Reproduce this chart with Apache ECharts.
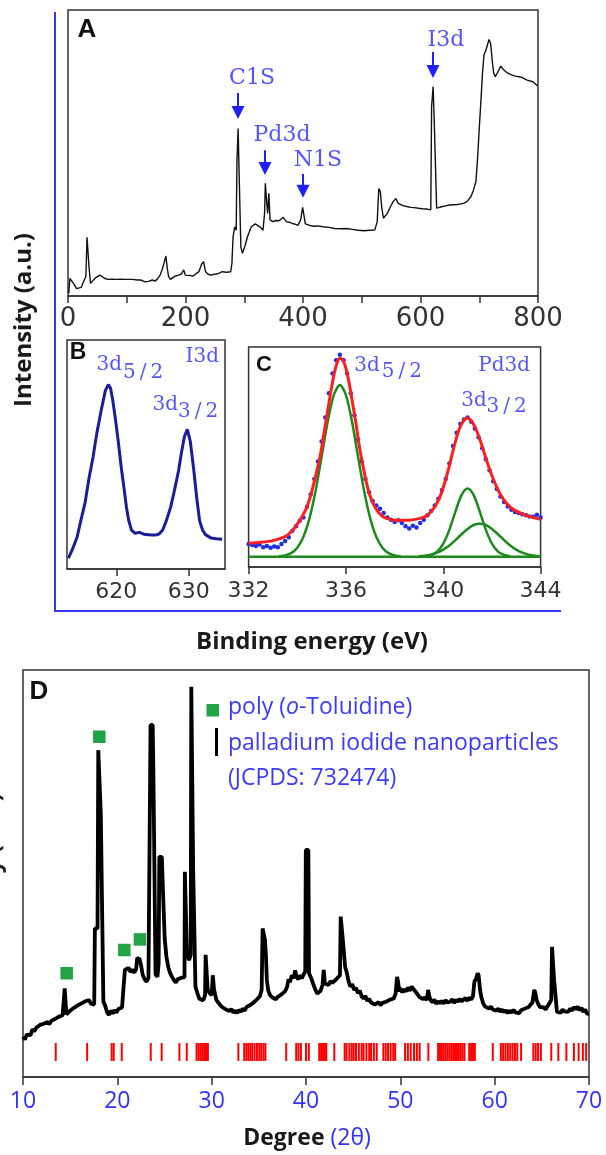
<!DOCTYPE html>
<html>
<head>
<meta charset="utf-8">
<script src="https://cdn.jsdelivr.net/npm/echarts@6.0.0/dist/echarts.min.js"></script>
<style>
html,body{margin:0;padding:0;background:#fff}
#chart{width:606px;height:1155px}
</style>
</head>
<body>
<div id="chart"></div>
<script>
// ---------- Panel A: XPS survey (binding energy eV, intensity a.u.) ----------
const surveySpectrum = [[1.3,0.9],[3.3,6.2],[6.6,5.8],[11.2,3.8],[14.5,2.6],[17.9,2.1],[22.5,3.0],[26.4,5.0],[30.4,6.8],[32.4,20.5],[34.4,20.5],[35.7,10.3],[38.3,4.4],[41.5,5.2],[44.3,5.8],[47.6,6.5],[50.9,7.0],[54.2,7.3],[57.5,6.8],[62.0,6.2],[67.4,5.8],[75.0,5.9],[83.0,5.8],[90.0,5.9],[96.0,5.8],[98.5,6.4],[100.5,5.8],[110.0,5.8],[118.0,5.6],[123.6,5.6],[130.3,5.0],[137.0,5.1],[143.5,5.6],[148.0,5.2],[152.0,5.9],[156.7,7.3],[160.0,9.1],[163.3,11.4],[166.6,14.0],[168.6,10.3],[171.2,6.8],[174.6,5.8],[179.0,6.5],[183.2,7.0],[188.0,7.3],[193.0,7.7],[197.0,9.1],[199.7,7.3],[206.0,7.2],[213.0,7.0],[218.0,7.8],[222.8,8.5],[227.5,11.2],[230.8,12.0],[234.0,8.5],[238.5,7.6],[242.7,7.3],[247.5,7.5],[252.6,7.7],[257.5,8.0],[262.5,8.5],[270.0,8.3],[277.0,8.5],[279.0,11.4],[281.0,20.7],[283.7,24.2],[286.3,23.0],[287.6,47.0],[289.6,58.6],[291.0,45.2],[293.0,45.8],[294.2,17.2],[296.9,14.9],[300.8,17.2],[305.5,20.7],[312.0,24.2],[318.7,25.2],[326.6,24.2],[331.9,23.0],[334.6,28.9],[335.9,39.4],[337.9,33.6],[339.9,28.9],[341.9,35.9],[343.9,26.6],[348.5,26.0],[353.5,26.4],[358.4,26.3],[362.5,26.8],[366.3,27.5],[371.6,26.0],[376.5,25.8],[381.5,25.4],[386.5,25.1],[391.4,24.7],[396.0,26.6],[399.4,31.0],[402.0,31.2],[404.0,25.2],[411.3,24.7],[418.0,24.4],[424.5,24.5],[434.0,24.2],[444.3,24.0],[454.0,23.6],[464.2,23.5],[474.0,23.6],[484.0,23.3],[494.0,23.0],[503.8,22.8],[513.0,23.0],[522.3,23.1],[526.3,26.0],[529.0,37.6],[531.6,36.5],[534.2,30.7],[536.9,27.2],[540.2,26.6],[543.5,28.9],[548.8,31.2],[553.4,33.0],[558.0,34.1],[562.0,32.4],[570.0,31.6],[576.5,31.3],[583.2,31.0],[590.0,30.9],[596.4,30.7],[603.0,30.5],[609.6,30.4],[614.0,30.3],[617.5,30.1],[618.9,66.2],[621.5,73.2],[623.5,60.4],[626.1,60.4],[627.5,30.7],[631.0,30.9],[636.0,31.2],[642.5,31.5],[649.3,31.8],[656.0,31.9],[662.5,32.0],[669.2,32.2],[674.0,32.5],[679.0,33.0],[685.7,34.7],[690.3,37.1],[694.3,40.0],[697.0,47.6],[700.2,59.2],[702.9,68.5],[705.5,77.9],[708.1,84.3],[711.4,86.0],[714.1,86.6],[716.7,89.7],[719.4,88.3],[722.0,82.5],[724.6,77.9],[727.3,76.7],[731.9,78.4],[736.6,80.4],[741.9,79.0],[748.5,77.9],[755.1,77.3],[761.7,76.9],[771.6,76.5],[781.5,75.5],[791.4,74.9],[799.4,73.4]];

// core-level tags: text, label centre, arrow position (x) and arrow span (top -> end)
const surveyTagText = ['C1S', 'Pd3d', 'N1S', 'I3d'];
const surveyTagX = [313.2, 364.3, 425.5, 643.4];
const surveyTagY = [76.2, 56.3, 47.6, 89.5];
const surveyArrowX = [289.4, 335.3, 400.0, 621.3];
const surveyArrowTop = [71.0, 51.0, 42.7, 85.3];
const surveyArrowEnd = [64.2, 44.6, 36.6, 78.5];

// ---------- Panel B: I3d high-resolution ----------
const iodineSpectrum = [[613.4,4.7],[614.0,9],[614.6,14],[615.1,21],[615.7,29],[616.2,39],[616.8,49],[617.3,59],[617.9,69],[618.5,78],[618.9,80.5],[619.2,79],[619.5,74],[619.9,65],[620.3,55],[620.7,44],[621.1,34.5],[621.4,27],[621.7,21.4],[622.1,17],[622.6,15.6],[623.2,16.0],[623.8,15.2],[624.4,15.0],[625.0,14.8],[625.4,14.8],[625.9,15.3],[626.4,17],[626.9,21],[627.5,27],[628.0,34],[628.6,43],[629.0,51],[629.4,57.8],[629.8,61],[630.2,56],[630.7,43],[631.1,31],[631.5,21],[631.9,17],[632.3,15],[633.1,13.5],[633.8,13.2],[634.6,13]];
const iodineTagText = ['3d', '5\u2009/\u20092', '3d', '3\u2009/\u20092', 'I3d'];
const iodineTagX = [619.03, 623.7, 626.76, 631.3, 631.86];
const iodineTagY = [89.1, 85.6, 71.6, 68.8, 92.6];

// ---------- Panel C: Pd3d high-resolution with fitted components ----------
const pdMeasured = [[332.0,10.5],[332.15,10.0],[332.3,9.6],[332.45,10.2],[332.6,9.0],[332.75,9.5],[332.9,8.8],[333.05,9.3],[333.2,9.0],[333.35,10.5],[333.5,11.8],[333.65,13.5],[333.8,16.5],[333.95,18.5],[334.1,21.0],[334.25,22.5],[334.4,27.4],[334.55,33],[334.7,40],[334.85,48],[335.0,57],[335.15,68],[335.3,79],[335.45,88],[335.6,94],[335.75,96.5],[335.9,94],[336.05,88],[336.2,79],[336.35,69],[336.5,58],[336.65,48],[336.8,40],[336.95,34],[337.1,30],[337.25,28],[337.4,26.5],[337.55,24.5],[337.7,22.5],[337.85,21.5],[338.0,20.5],[338.15,21.2],[338.3,20.0],[338.45,18.5],[338.6,17.5],[338.75,18.8],[338.9,18.0],[339.05,20.0],[339.2,21.5],[339.35,23.5],[339.5,25.5],[339.65,28],[339.8,31],[339.95,35],[340.1,40],[340.25,47],[340.4,55],[340.55,61],[340.7,65],[340.85,67],[341.0,68],[341.15,66],[341.3,63],[341.45,59],[341.6,54],[341.75,49],[341.9,44],[342.05,39],[342.2,35.5],[342.35,32],[342.5,29.5],[342.65,27.5],[342.8,26],[342.95,25],[343.1,24.5],[343.25,24],[343.4,23.5],[343.55,23.0],[343.7,22.8],[343.85,23.8],[344.0,22.5]];
const pdEnvelope = [[332.0,10.8],[332.5,11.2],[333.0,12.0],[333.5,13.8],[333.75,16.0],[334.0,19.5],[334.2,23.0],[334.4,27.4],[334.6,34.5],[334.8,43.5],[334.95,51],[335.1,61],[335.25,71],[335.4,81],[335.55,89.5],[335.7,94.5],[335.8,94.8],[335.95,92],[336.1,85.5],[336.25,76],[336.4,66],[336.55,55],[336.7,46],[336.85,38],[337.0,32],[337.2,27],[337.45,23.5],[337.7,22.0],[338.0,21.3],[338.5,21.2],[339.0,22.0],[339.3,23.2],[339.6,26.5],[339.85,31.5],[340.05,38],[340.25,46],[340.45,55],[340.65,62.5],[340.85,66.8],[341.0,67.6],[341.15,66.5],[341.35,62.5],[341.55,56.5],[341.75,49.5],[341.95,43],[342.15,37.5],[342.35,33],[342.6,29],[342.9,26],[343.2,24.4],[343.6,22.8],[344.0,21.7]];
const pdBaseline = [[332,4.7],[344,4.7]];
const pdComponent1 = [[333.25,4.9],[333.5,5.3],[333.75,6.3],[334.0,8.8],[334.25,13.6],[334.5,22.0],[334.75,34.4],[335.0,50.0],[335.25,66.0],[335.5,78.1],[335.75,82.7],[336.0,78.1],[336.25,66.0],[336.5,50.0],[336.75,34.4],[337.0,22.0],[337.25,13.6],[337.5,8.8],[337.75,6.3],[338.0,5.3],[338.25,4.9]];
const pdComponent2 = [[339.25,4.9],[339.5,5.5],[339.75,7.0],[340.0,10.6],[340.25,16.9],[340.5,25.2],[340.75,32.7],[341.0,35.7],[341.25,32.7],[341.5,25.2],[341.75,16.9],[342.0,10.6],[342.25,7.0],[342.5,5.5],[342.75,4.9]];
const pdComponent3 = [[339.0,4.85],[339.25,5.1],[339.5,5.6],[339.75,6.5],[340.0,7.9],[340.25,9.8],[340.5,12.2],[340.75,14.9],[341.0,17.3],[341.25,19.1],[341.5,19.7],[341.75,19.1],[342.0,17.3],[342.25,14.9],[342.5,12.2],[342.75,9.8],[343.0,7.9],[343.25,6.5],[343.5,5.6],[343.75,5.1],[344.0,4.85]];
const pdTagText = ['3d', '5\u2009/\u20092', 'Pd3d', '3d', '3\u2009/\u20092'];
const pdTagX = [336.87, 338.3, 342.5, 341.26, 342.6];
const pdTagY = [91.4, 88.6, 91.4, 75.5, 72.9];

// ---------- Panel D: XRD pattern (2θ, intensity a.u.) ----------
const xrdScan = [[10.0,99],[10.2,92],[10.4,104],[10.6,108],[10.8,103],[11.0,117],[11.2,112],[11.4,121],[11.6,118],[11.8,128],[12.0,124],[12.2,131],[12.4,127],[12.6,135],[12.8,130],[13.0,138],[13.2,134],[13.4,143],[13.6,139],[13.8,148],[14.0,146],[14.2,152],[14.35,150],[14.42,218],[14.52,218],[14.6,154],[14.8,158],[15.0,163],[15.2,160],[15.4,170],[15.6,167],[15.8,176],[16.0,172],[16.2,181],[16.4,178],[16.6,186],[16.8,182],[17.0,189],[17.2,180],[17.4,184],[17.55,178],[17.62,365],[17.9,365],[17.98,803],[18.15,803],[18.25,644],[18.45,644],[18.52,185],[18.7,176],[18.9,160],[19.1,152],[19.3,163],[19.5,156],[19.7,164],[19.9,158],[20.1,167],[20.3,163],[20.5,171],[20.7,173],[20.8,263],[21.0,262],[21.2,268],[21.4,258],[21.6,264],[21.8,256],[22.0,266],[22.1,292],[22.35,290],[22.5,276],[22.7,250],[22.9,240],[23.1,234],[23.3,244],[23.45,248],[23.52,865],[23.75,865],[23.82,754],[23.98,754],[24.05,252],[24.25,246],[24.38,279],[24.45,541],[24.72,541],[24.78,496],[24.95,496],[25.02,341],[25.2,296],[25.4,270],[25.6,255],[25.8,246],[26.0,238],[26.2,232],[26.4,240],[26.6,236],[26.8,244],[27.0,242],[27.12,245],[27.16,504],[27.32,504],[27.38,304],[27.6,287],[27.78,300],[27.84,959],[27.98,959],[28.04,509],[28.22,509],[28.28,222],[28.5,205],[28.7,192],[28.9,196],[29.1,188],[29.3,201],[29.36,300],[29.5,300],[29.58,214],[29.8,206],[30.0,201],[30.12,250],[30.25,215],[30.5,189],[30.7,183],[30.9,177],[31.1,172],[31.3,176],[31.5,166],[31.7,170],[31.9,162],[32.1,167],[32.3,158],[32.5,163],[32.7,157],[32.9,165],[33.1,160],[33.3,168],[33.5,163],[33.7,172],[33.9,168],[34.1,177],[34.3,173],[34.5,184],[34.7,181],[34.9,193],[35.1,198],[35.3,214],[35.4,365],[35.55,365],[35.65,337],[35.75,300],[35.85,238],[36.0,212],[36.2,201],[36.4,196],[36.6,200],[36.8,191],[37.0,197],[37.2,193],[37.4,203],[37.6,200],[37.8,211],[38.0,222],[38.15,240],[38.3,233],[38.5,250],[38.7,243],[38.85,262],[39.0,246],[39.2,240],[39.4,250],[39.55,242],[39.75,252],[39.92,259],[39.98,558],[40.25,558],[40.32,255],[40.6,240],[40.8,226],[41.0,214],[41.2,205],[41.35,201],[41.55,212],[41.75,226],[41.88,263],[42.0,230],[42.2,230],[42.4,226],[42.6,236],[42.8,231],[43.0,234],[43.2,240],[43.4,238],[43.6,250],[43.68,394],[43.86,394],[43.92,333],[44.08,333],[44.15,270],[44.3,259],[44.5,236],[44.7,222],[44.9,228],[45.1,214],[45.3,219],[45.5,206],[45.7,212],[45.9,198],[46.1,193],[46.3,199],[46.5,187],[46.7,192],[46.9,183],[47.1,186],[47.3,178],[47.5,177],[47.7,184],[47.9,176],[48.1,182],[48.3,179],[48.5,185],[48.7,181],[48.9,190],[49.1,188],[49.3,193],[49.5,205],[49.65,246],[49.75,235],[49.9,210],[50.0,218],[50.2,208],[50.4,216],[50.6,210],[50.8,220],[51.0,212],[51.2,222],[51.4,218],[51.6,210],[51.8,204],[52.0,197],[52.2,200],[52.4,191],[52.6,196],[52.8,189],[52.95,214],[53.05,200],[53.2,189],[53.4,184],[53.6,190],[53.8,180],[54.0,186],[54.2,181],[54.4,187],[54.6,180],[54.8,189],[55.0,183],[55.3,185],[55.5,191],[55.7,182],[55.9,190],[56.1,185],[56.3,192],[56.5,186],[56.7,189],[56.9,194],[57.1,187],[57.3,195],[57.5,190],[57.7,198],[57.85,234],[58.0,240],[58.2,255],[58.3,250],[58.45,214],[58.6,195],[58.8,180],[59.0,173],[59.2,176],[59.4,168],[59.6,173],[59.8,166],[60.0,170],[60.2,163],[60.4,168],[60.6,160],[60.8,166],[61.0,159],[61.2,164],[61.4,157],[61.6,163],[61.8,158],[62.0,165],[62.2,159],[62.4,163],[62.6,157],[62.8,164],[63.0,160],[63.2,168],[63.4,165],[63.6,172],[63.8,176],[64.0,183],[64.2,214],[64.3,208],[64.45,189],[64.6,180],[64.8,172],[65.0,168],[65.2,171],[65.4,166],[65.6,174],[65.8,181],[66.0,190],[66.08,320],[66.22,320],[66.3,238],[66.45,200],[66.6,160],[66.8,163],[67.0,158],[67.2,166],[67.4,161],[67.6,165],[67.8,160],[68.0,168],[68.2,163],[68.4,172],[68.6,166],[68.8,173],[69.0,164],[69.2,170],[69.4,160],[69.6,166],[69.8,155],[70.0,156]];

// poly(o-toluidine) reflections marked with squares
const potMarks = [[14.63,255],[18.09,836],[20.74,312],[22.4,338]];

// reference reflections, JCPDS 732474 (2θ)
const jcpdsLines = [13.47,16.8,19.4,19.62,20.47,23.54,24.7,26.58,27.36,28.4,28.6,28.8,29.0,29.2,29.4,29.6,32.83,33.45,33.67,33.88,34.1,34.3,34.55,34.8,35.05,35.26,35.5,35.7,37.9,38.96,39.2,39.46,40.0,40.3,41.4,41.6,41.8,42.0,42.15,43.0,44.1,44.3,44.6,44.85,45.05,45.3,45.6,45.9,46.1,46.4,46.7,46.9,47.2,47.5,48.2,48.45,48.7,48.97,49.25,49.45,50.5,50.8,51.1,51.45,51.75,52.05,52.97,54.0,54.2,54.4,54.6,54.8,55.0,55.2,55.4,55.6,55.8,56.0,56.2,56.4,56.6,56.8,57.3,57.5,57.7,57.9,59.8,60.66,60.9,61.15,61.4,61.65,61.9,62.15,62.4,62.8,64.1,64.35,64.6,64.9,66.0,66.75,67.6,68.4,68.9,69.35,69.7];
const jcpdsLevel = 61.5;

// ---------- styling ----------
const frame = '#333333';
const tagBlue = '#2a2aff';
const axisBlue = '#3030ff';

const tagData = (texts, xs, ys) => texts.map((t, i) => ({ name: t, value: [xs[i], ys[i]] }));

function tagSeries(gridIdx, data, size) {
  return {
    type: 'scatter', xAxisIndex: gridIdx, yAxisIndex: gridIdx,
    data: data, symbolSize: 1, itemStyle: { color: 'transparent' }, silent: true, z: 5,
    label: {
      show: true, position: 'inside', formatter: p => p.name,
      fontFamily: 'DejaVu Serif', fontSize: size, color: tagBlue
    }
  };
}

function xAxisOf(gridIdx, min, max, extra) {
  return Object.assign({
    type: 'value', gridIndex: gridIdx, min: min, max: max,
    axisLine: { show: true, onZero: false, lineStyle: { color: frame, width: 1.5 } },
    axisTick: { show: true, inside: false, length: 7, lineStyle: { color: frame, width: 1.5 } },
    splitLine: { show: false }
  }, extra);
}
function yAxisOf(gridIdx, min, max) {
  return { type: 'value', gridIndex: gridIdx, min: min, max: max, show: false, splitLine: { show: false } };
}
const gridBox = (l, t, w, h) => ({ left: l, top: t, width: w, height: h, show: true, borderColor: frame, borderWidth: 1.5, backgroundColor: 'transparent', outerBoundsMode: 'none', containLabel: false });

const option = {
  animation: false,
  backgroundColor: '#ffffff',
  grid: [
    gridBox(68, 10, 470, 286),
    gridBox(67, 340, 158, 229),
    gridBox(248.6, 347, 292, 220),
    gridBox(23, 670, 566, 407)
  ],
  xAxis: [
    xAxisOf(0, 0, 800, {
      interval: 100,
      axisLabel: { margin: 10, fontFamily: 'DejaVu Sans', fontSize: 26, color: '#333',
        formatter: v => (v % 200 === 0 ? String(v) : '') }
    }),
    xAxisOf(1, 613.2, 635, {
      axisTick: { show: true, inside: false, length: 7, customValues: [620, 630], lineStyle: { color: frame, width: 1.5 } },
      axisLabel: { margin: 12, customValues: [620, 630], fontFamily: 'DejaVu Sans', fontSize: 22, color: '#333' }
    }),
    xAxisOf(2, 332, 344, {
      interval: 4,
      axisLabel: { margin: 13, fontFamily: 'DejaVu Sans', fontSize: 22, color: '#333' }
    }),
    xAxisOf(3, 10, 70, {
      interval: 10,
      axisTick: { show: true, inside: false, length: 8, lineStyle: { color: frame, width: 1.5 } },
      axisLabel: { margin: 13, fontFamily: 'Open Sans', fontSize: 23, color: axisBlue }
    })
  ],
  yAxis: [yAxisOf(0, 0, 100), yAxisOf(1, 0, 100), yAxisOf(2, 0, 100), yAxisOf(3, 0, 1000)],
  series: [
    {
      type: 'line', xAxisIndex: 0, yAxisIndex: 0, data: surveySpectrum, showSymbol: false,
      lineStyle: { color: '#111', width: 1.4 }, silent: true,
      markLine: {
        silent: true, symbol: ['none', 'triangle'], symbolSize: 13,
        label: { show: false },
        lineStyle: { color: '#1f1fff', width: 2, type: 'solid' },
        itemStyle: { color: '#1f1fff' },
        data: surveyArrowX.map((x, i) => [{ coord: [x, surveyArrowTop[i]] }, { coord: [x, surveyArrowEnd[i]] }])
      }
    },
    tagSeries(0, tagData(surveyTagText, surveyTagX, surveyTagY), 22),
    {
      type: 'line', xAxisIndex: 1, yAxisIndex: 1, data: iodineSpectrum, showSymbol: false,
      lineStyle: { color: '#1c1c9a', width: 3 }, silent: true
    },
    tagSeries(1, tagData(iodineTagText, iodineTagX, iodineTagY), 20),
    { type: 'line', xAxisIndex: 2, yAxisIndex: 2, data: pdBaseline, showSymbol: false, lineStyle: { color: '#1e8a1e', width: 2.5 }, silent: true },
    { type: 'line', xAxisIndex: 2, yAxisIndex: 2, data: pdComponent1, showSymbol: false, smooth: 0.3, lineStyle: { color: '#1e8a1e', width: 2.5 }, silent: true },
    { type: 'line', xAxisIndex: 2, yAxisIndex: 2, data: pdComponent2, showSymbol: false, smooth: 0.3, lineStyle: { color: '#1e8a1e', width: 2.5 }, silent: true },
    { type: 'line', xAxisIndex: 2, yAxisIndex: 2, data: pdComponent3, showSymbol: false, smooth: 0.3, lineStyle: { color: '#1e8a1e', width: 2.5 }, silent: true },
    { type: 'scatter', xAxisIndex: 2, yAxisIndex: 2, data: pdMeasured, symbol: 'circle', symbolSize: 4.5, itemStyle: { color: '#1f2ee6', opacity: 1 }, silent: true },
    { type: 'line', xAxisIndex: 2, yAxisIndex: 2, data: pdEnvelope, showSymbol: false, smooth: 0.3, lineStyle: { color: '#ff1e1e', width: 3 }, silent: true },
    tagSeries(2, tagData(pdTagText, pdTagX, pdTagY), 20),
    {
      type: 'line', xAxisIndex: 3, yAxisIndex: 3, data: xrdScan, showSymbol: false,
      lineStyle: { color: '#000', width: 3.8 }, silent: true
    },
    {
      type: 'scatter', xAxisIndex: 3, yAxisIndex: 3, data: potMarks, symbol: 'rect', symbolSize: 12.5,
      itemStyle: { color: '#21a346', opacity: 1 }, silent: true, z: 4
    },
    {
      type: 'scatter', xAxisIndex: 3, yAxisIndex: 3, data: jcpdsLines.map(d => [d, jcpdsLevel]),
      symbol: 'rect', symbolSize: [2, 18], itemStyle: { color: '#ff0000', opacity: 1 }, silent: true
    }
  ],
  graphic: [
    { type: 'line', shape: { x1: 55, y1: 12, x2: 55, y2: 611 }, style: { stroke: '#3535ff', lineWidth: 2 }, silent: true },
    { type: 'line', shape: { x1: 54, y1: 611, x2: 561, y2: 611 }, style: { stroke: '#3535ff', lineWidth: 2 }, silent: true },
    { type: 'text', x: 24, y: 320, rotation: Math.PI / 2, silent: true,
      style: { text: 'Intensity (a.u.)', font: 'bold 24px "Open Sans"', fill: '#1a1a1a', textAlign: 'center', textVerticalAlign: 'middle' } },
    { type: 'text', x: -7, y: 880, rotation: Math.PI / 2, silent: true,
      style: { text: 'Intensity (a.u.)', font: 'bold 24px "Open Sans"', fill: '#222222', textAlign: 'center', textVerticalAlign: 'middle' } },
    { type: 'text', x: 312, y: 642, silent: true,
      style: { text: 'Binding energy (eV)', font: 'bold 24px "Open Sans"', fill: '#1a1a1a', textAlign: 'center', textVerticalAlign: 'middle' } },
    { type: 'text', x: 307, y: 1138, silent: true,
      style: {
        text: '{a|Degree }{b|(2θ)}', textAlign: 'center', textVerticalAlign: 'middle',
        rich: {
          a: { fontFamily: 'Open Sans', fontWeight: 'bold', fontSize: 23, fill: '#1a1a1a' },
          b: { fontFamily: 'Open Sans', fontSize: 23, fill: axisBlue }
        }
      } },
    { type: 'text', x: 87, y: 30, silent: true, style: { text: 'A', font: 'bold 26px "Liberation Sans"', fill: '#111', textAlign: 'center', textVerticalAlign: 'middle' } },
    { type: 'text', x: 78, y: 353, silent: true, style: { text: 'B', font: 'bold 23px "Liberation Sans"', fill: '#111', textAlign: 'center', textVerticalAlign: 'middle' } },
    { type: 'text', x: 264, y: 365, silent: true, style: { text: 'C', font: 'bold 22px "Liberation Sans"', fill: '#111', textAlign: 'center', textVerticalAlign: 'middle' } },
    { type: 'text', x: 39, y: 692, silent: true, style: { text: 'D', font: 'bold 26px "Liberation Sans"', fill: '#111', textAlign: 'center', textVerticalAlign: 'middle' } },
    // key of panel D
    { type: 'rect', shape: { x: 206.5, y: 704, width: 12.5, height: 12.5 }, style: { fill: '#21a346' }, silent: true },
    { type: 'rect', shape: { x: 215, y: 728, width: 3, height: 28 }, style: { fill: '#000' }, silent: true },
    { type: 'text', x: 228, y: 707, silent: true,
      style: {
        text: '{a|poly (}{b|o}{a|-Toluidine)}', textAlign: 'left', textVerticalAlign: 'middle',
        rich: {
          a: { fontFamily: 'Open Sans', fontSize: 23, fill: '#3a3aff' },
          b: { fontFamily: 'Open Sans', fontStyle: 'italic', fontSize: 23, fill: '#3a3aff' }
        }
      } },
    { type: 'text', x: 228, y: 743, silent: true,
      style: { text: 'palladium iodide nanoparticles', font: '23px "Open Sans"', fill: '#3a3aff', textAlign: 'left', textVerticalAlign: 'middle' } },
    { type: 'text', x: 228, y: 778, silent: true,
      style: { text: '(JCPDS: 732474)', font: '23px "Open Sans"', fill: '#3a3aff', textAlign: 'left', textVerticalAlign: 'middle' } }
  ]
};

const chart = echarts.init(document.getElementById('chart'), null, { renderer: 'canvas', width: 606, height: 1155 });
chart.setOption(option);
</script>
</body>
</html>
